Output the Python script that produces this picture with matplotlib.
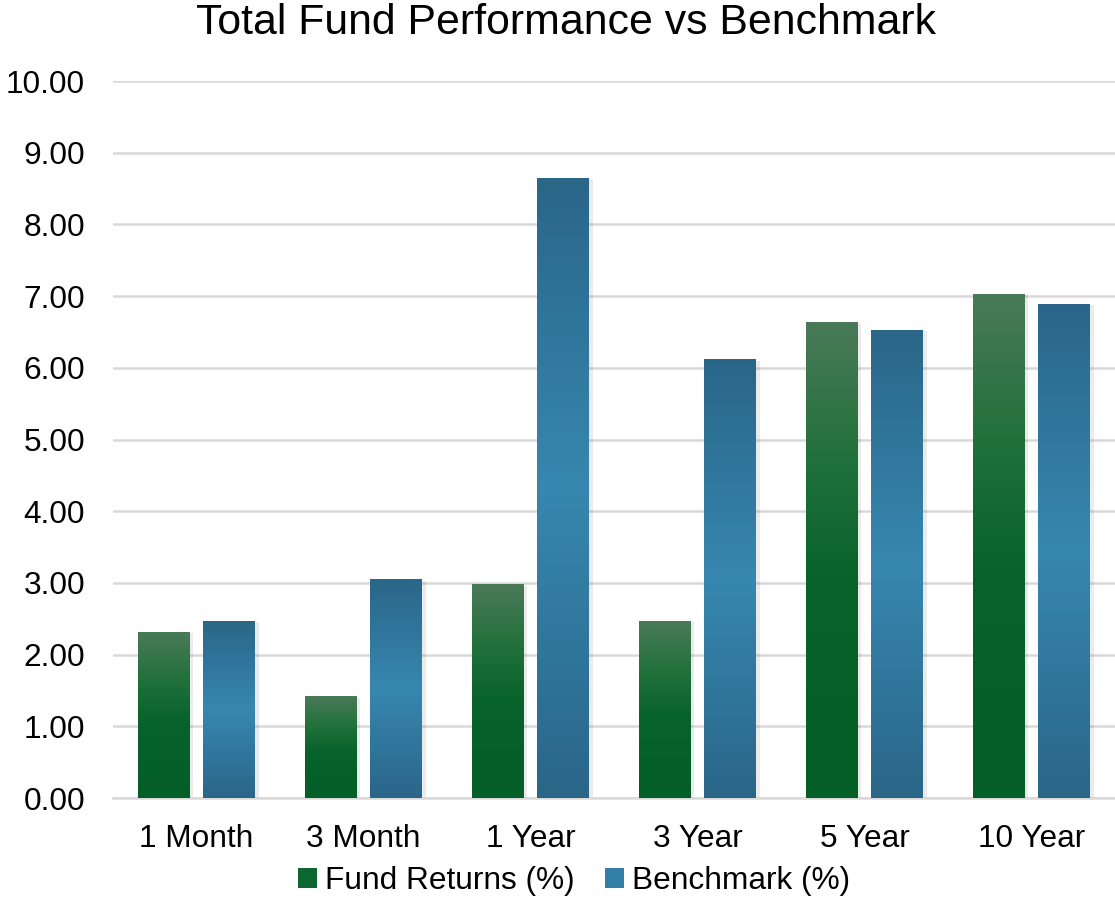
import numpy as np
import matplotlib
matplotlib.use("Agg")
import matplotlib.pyplot as plt
from matplotlib.colors import LinearSegmentedColormap
from matplotlib.patches import Patch

plt.rcParams['font.family'] = ['Liberation Sans', 'DejaVu Sans']

periods = ['1 Month', '3 Month', '1 Year', '3 Year', '5 Year', '10 Year']
fund_returns = [2.32, 1.42, 2.98, 2.47, 6.64, 7.03]
benchmark = [2.47, 3.05, 8.65, 6.12, 6.53, 6.89]

# gradients run bottom -> top
green_cmap = LinearSegmentedColormap.from_list(
    'fund', [(0, '#035e27'), (0.45, '#07622b'), (0.7, '#20703a'), (1, '#4a7a58')])
blue_cmap = LinearSegmentedColormap.from_list(
    'bench', [(0, '#2a6688'), (0.5, '#3787b0'), (1, '#2a6688')])

fig = plt.figure(figsize=(11.15, 9), dpi=100)
ax = fig.add_axes([0.1013, 0.1133, 0.8987, 0.7967])

x = np.arange(len(periods))
w = 0.31
off = 0.195

def gradient_bars(xs, vals, cmap):
    bars = ax.bar(xs, vals, width=w, color='none', zorder=3)
    grad = np.linspace(0, 1, 256).reshape(-1, 1)
    for b in bars:
        x0, y0 = b.get_x(), b.get_y()
        x1, y1 = x0 + b.get_width(), y0 + b.get_height()
        # soft shadow
        ax.bar(b.get_x() + b.get_width() / 2 + 0.012, b.get_height() + 0.02, width=w + 0.02,
               bottom=-0.04, color='#000000', alpha=0.08, zorder=2, linewidth=0)
        im = ax.imshow(grad, extent=[x0, x1, y0, y1], origin='lower', cmap=cmap,
                       aspect='auto', zorder=3, interpolation='bilinear')
        im.set_clip_path(b)
    return bars

gradient_bars(x - off, fund_returns, green_cmap)
gradient_bars(x + off, benchmark, blue_cmap)

ax.set_xlim(-0.5, len(periods) - 0.5)
ax.set_ylim(0, 10)
ax.set_yticks(np.arange(0, 11, 1))
ax.set_yticklabels(['%.2f' % v for v in np.arange(0, 11, 1)])
ax.set_xticks(x)
ax.set_xticklabels(periods)
ax.tick_params(axis='both', length=0, labelsize=22.8)
ax.tick_params(axis='y', pad=20)
ax.tick_params(axis='x', pad=19)
ax.grid(axis='y', color='#d9d9d9', linewidth=1.8, zorder=0)
for s in ['top', 'right', 'left']:
    ax.spines[s].set_visible(False)
ax.spines['bottom'].set_color('#d9d9d9')
ax.spines['bottom'].set_linewidth(1.8)

fig.text(0.508, 0.975, 'Total Fund Performance vs Benchmark', ha='center', va='center', fontsize=30.8)

handles = [Patch(facecolor='#0b6630', label='Fund Returns (%)'),
           Patch(facecolor='#327ea6', label='Benchmark (%)')]
fig.legend(handles=handles, loc='center', bbox_to_anchor=(0.515, 0.021), ncol=2, frameon=False,
           fontsize=22.8, handlelength=0.6, handleheight=0.6, handletextpad=0.25, columnspacing=0.95)

fig.savefig('out.png', dpi=100)
